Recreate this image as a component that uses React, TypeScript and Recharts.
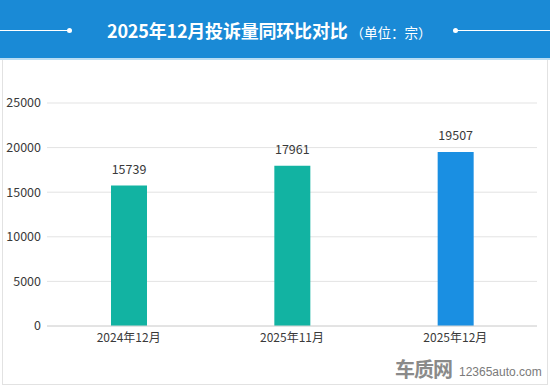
import React from 'react';
import { BarChart, Bar, XAxis, YAxis, CartesianGrid, Cell, LabelList } from 'recharts';

const months = ['2024年12月', '2025年11月', '2025年12月'];
const complaints = [15739, 17961, 19507];
const yTicks = [0, 5000, 10000, 15000, 20000, 25000];

const barColors = ['#12b3a2', '#12b3a2', '#1a8fe2'];
const FONT = '"Noto Sans CJK SC", "Microsoft YaHei", sans-serif';

const chartData = months.map((m, i) => ({ month: m, value: complaints[i] }));

const App: React.FC = () => {
  return (
    <div
      style={{
        position: 'absolute',
        left: 0,
        top: 0,
        width: 550,
        height: 386,
        background: '#ffffff',
        fontFamily: FONT,
        overflow: 'hidden',
      }}
    >
      {/* header band */}
      <div style={{ position: 'absolute', left: 0, top: 0, width: 550, height: 58, background: '#1a8ad6' }} />
      <div style={{ position: 'absolute', left: 0, top: 58, width: 550, height: 2, background: '#b9dcf3' }} />
      <div style={{ position: 'absolute', left: 0, top: 30, width: 68, height: 1, background: '#ffffff' }} />
      <div style={{ position: 'absolute', left: 67, top: 28, width: 5, height: 5, borderRadius: 3, background: '#ffffff' }} />
      <div style={{ position: 'absolute', left: 453, top: 28, width: 5, height: 5, borderRadius: 3, background: '#ffffff' }} />
      <div style={{ position: 'absolute', left: 455, top: 30, width: 95, height: 1, background: '#ffffff' }} />
      <div
        style={{
          position: 'absolute',
          left: 107,
          top: 17,
          color: '#ffffff',
          whiteSpace: 'nowrap',
          lineHeight: '26px',
        }}
      >
        <span style={{ fontSize: 18, fontWeight: 700, letterSpacing: -0.2 }}>2025年12月投诉量同环比对比</span>
        <span style={{ fontSize: 13.5, marginLeft: 3 }}>（单位：宗）</span>
      </div>

      {/* panel frame */}
      <div
        style={{
          position: 'absolute',
          left: 2,
          top: 60,
          width: 544,
          height: 324,
          borderLeft: '1px solid #e2e2e2',
          borderRight: '1px solid #e2e2e2',
          borderBottom: '1px solid #e2e2e2',
        }}
      />

      <div style={{ position: 'absolute', left: 0, top: 0 }}>
        <BarChart
          width={550}
          height={386}
          data={chartData}
          margin={{ top: 103, right: 13, bottom: 40, left: 0 }}
        >
          <CartesianGrid vertical={false} stroke="#e3e3e3" />
          <XAxis
            dataKey="month"
            axisLine={{ stroke: '#d6d6d6' }}
            tickLine={false}
            tickSize={4}
            tickMargin={3}
            height={20}
            tick={{ fill: '#3a3a3a', fontSize: 12, fontFamily: FONT }}
          />
          <YAxis
            width={47}
            domain={[0, 25000]}
            ticks={yTicks}
            axisLine={false}
            tickLine={false}
            tickSize={4}
            tickMargin={2}
            tick={{ fill: '#3a3a3a', fontSize: 12.5, fontFamily: FONT }}
          />
          <Bar dataKey="value" barSize={36} isAnimationActive={false}>
            {chartData.map((d, i) => (
              <Cell key={d.month} fill={barColors[i]} />
            ))}
            <LabelList
              dataKey="value"
              position="top"
              offset={12}
              fill="#3a3a3a"
              fontSize={12.5}
              fontFamily={FONT}
            />
          </Bar>
        </BarChart>
      </div>

      {/* watermark */}
      <div
        style={{
          position: 'absolute',
          left: 395,
          top: 357,
          color: '#8a8a8a',
          fontSize: 20,
          fontWeight: 700,
          letterSpacing: -1,
          lineHeight: '24px',
          whiteSpace: 'nowrap',
        }}
      >
        车质网
      </div>
      <div
        style={{
          position: 'absolute',
          left: 459,
          top: 363,
          color: '#7a7a7a',
          fontSize: 12,
          lineHeight: '18px',
          fontFamily: '"Liberation Sans", Arial, sans-serif',
          whiteSpace: 'nowrap',
        }}
      >
        12365auto.com
      </div>
    </div>
  );
};

export default App;
